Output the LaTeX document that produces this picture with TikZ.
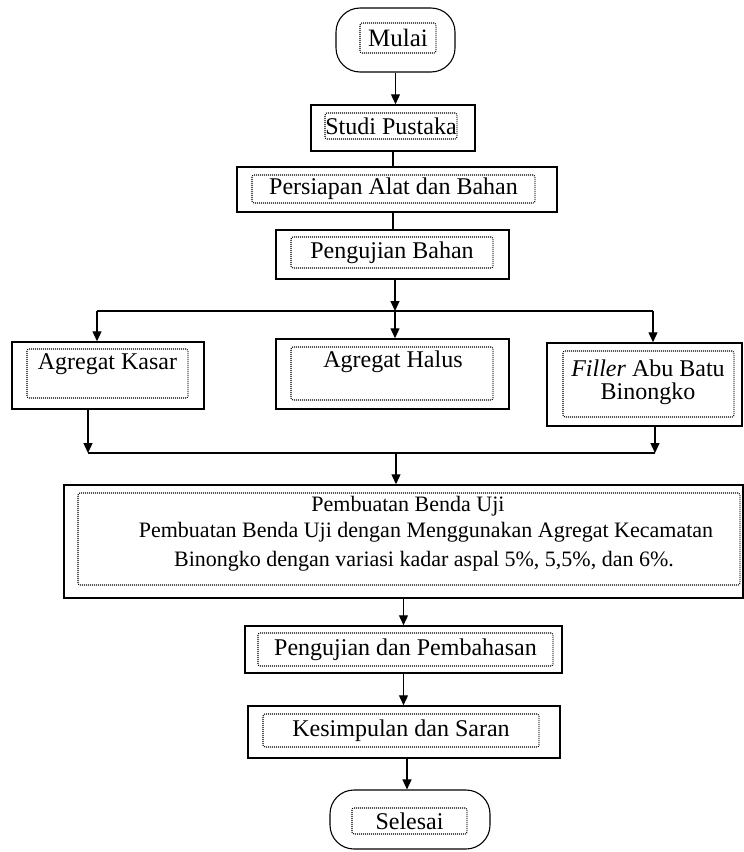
\documentclass[tikz,border=0pt]{standalone}
\usepackage{fontspec}
\setmainfont{Liberation Serif}
\usetikzlibrary{arrows.meta}
\tikzset{
  box/.style={draw, line width=1.5pt, rectangle, inner sep=0pt},
  term/.style={draw, line width=1.1pt, rectangle, rounded corners=24pt, inner sep=0pt},
  dotbox/.style={draw, line width=1.1pt, dash pattern=on 0.9pt off 1.1pt, rectangle, rounded corners=2pt, inner sep=0pt},
  lbl/.style={inner sep=0pt, font=\fontsize{24}{28}\selectfont},
  lblsmall/.style={inner sep=0pt, font=\fontsize{22}{26}\selectfont},
  arr/.style={line width=1.3pt, -{Triangle[width=9pt,length=10pt]}},
  ln/.style={line width=1.3pt},
}
\begin{document}
\begin{tikzpicture}[x=1pt,y=-1pt]
\useasboundingbox (0,0) rectangle (744,852);

% terminals and boxes
\node[term, minimum width=119pt, minimum height=64pt] (mulai) at (395.5,40) {};
\node[dotbox, minimum width=76pt, minimum height=30pt] (mulaiI) at (398,38) {};
\node[lbl, font=\fontsize{25}{28}\selectfont] (mulaiT) at (398,38) {Mulai};

\node[box, minimum width=164pt, minimum height=46pt] (studi) at (393,128) {};
\node[dotbox, minimum width=132pt, minimum height=26pt] (studiI) at (391,126) {};
\node[lbl] (studiT) at (391,126) {Studi Pustaka};

\node[box, minimum width=320pt, minimum height=45pt] (persiapan) at (397,189.5) {};
\node[dotbox, minimum width=283pt, minimum height=28pt] (persiapanI) at (393.5,189) {};
\node[lbl] (persiapanT) at (393.5,189) {Persiapan Alat dan Bahan};

\node[box, minimum width=233pt, minimum height=49pt] (uji) at (392.5,254.5) {};
\node[dotbox, minimum width=202pt, minimum height=31pt] (ujiI) at (392,252.5) {};
\node[lbl] (ujiT) at (392,252.5) {Pengujian Bahan};

\node[box, minimum width=192pt, minimum height=67pt] (kasar) at (108,375.5) {};
\node[dotbox, minimum width=161pt, minimum height=49pt] (kasarI) at (107.5,373.5) {};
\node[lbl] (kasarT) at (107.5,364) {Agregat Kasar};

\node[box, minimum width=233pt, minimum height=70pt] (halus) at (392.5,374) {};
\node[dotbox, minimum width=202pt, minimum height=53pt] (halusI) at (392,373.5) {};
\node[lbl] (halusT) at (393,362) {Agregat Halus};

\node[box, minimum width=195pt, minimum height=83pt] (filler) at (644.5,384.5) {};
\node[dotbox, minimum width=171pt, minimum height=66pt] (fillerI) at (648.5,384) {};
\node[lbl] (fillerT1) at (648,368) {\textit{Filler} Abu Batu};
\node[lbl] (fillerT2) at (648,394) {Binongko};

\node[box, minimum width=679pt, minimum height=113pt] (buat) at (403.5,541.5) {};
\node[dotbox, minimum width=662pt, minimum height=92pt] (buatI) at (409,539) {};
\node[lblsmall] (buatT1) at (408,506) {Pembuatan Benda Uji};
\node[lblsmall] (buatT2) at (426,532) {Pembuatan Benda Uji dengan Menggunakan Agregat Kecamatan};
\node[lblsmall] (buatT3) at (424,561) {Binongko dengan variasi kadar aspal 5\%, 5,5\%, dan 6\%.};

\node[box, minimum width=317pt, minimum height=47pt] (bahas) at (403.5,649.5) {};
\node[dotbox, minimum width=295pt, minimum height=33pt] (bahasI) at (405.5,649.5) {};
\node[lbl] (bahasT) at (405.5,649.5) {Pengujian dan Pembahasan};

\node[box, minimum width=312pt, minimum height=52pt] (simpul) at (404,732) {};
\node[dotbox, minimum width=276pt, minimum height=33pt] (simpulI) at (401,730.5) {};
\node[lbl] (simpulT) at (401,730.5) {Kesimpulan dan Saran};

\node[term, minimum width=160pt, minimum height=59pt] (selesai) at (410,819.5) {};
\node[dotbox, minimum width=115pt, minimum height=26pt] (selesaiI) at (409.5,821) {};
\node[lbl] (selesaiT) at (409.5,821) {Selesai};

% junction coordinates
\coordinate (split) at (395,311);
\coordinate (splitL) at (97,311);
\coordinate (splitR) at (653,311);
\coordinate (joinL) at (88,453);
\coordinate (joinR) at (655,453);
\coordinate (joinM) at (396,453);
\coordinate (endx) at (407,0);

% connectors
\draw[arr] (mulai.south) -- (mulai.south |- studi.north);
\draw[ln] (studi.south) -- (studi.south |- persiapan.north);
\draw[ln] (studi.south |- persiapan.south) -- (studi.south |- uji.north);
\draw[arr] (split |- uji.south) -- (split);
\draw[ln] (splitL) -- (splitR);
\draw[arr] (split) -- (split |- halus.north);
\draw[arr] (splitL) -- (splitL |- kasar.north);
\draw[arr] (splitR) -- (splitR |- filler.north);
\draw[arr] (joinL |- kasar.south) -- (joinL);
\draw[arr] (joinR |- filler.south) -- (joinR);
\draw[ln] (joinL) -- (joinR);
\draw[arr] (joinM) -- (joinM |- buat.north);
\draw[arr] (buat.south) -- (buat.south |- bahas.north);
\draw[arr] (bahas.south) -- (bahas.south |- simpul.north);
\draw[arr] (endx |- simpul.south) -- (endx |- selesai.north);
\end{tikzpicture}
\end{document}
